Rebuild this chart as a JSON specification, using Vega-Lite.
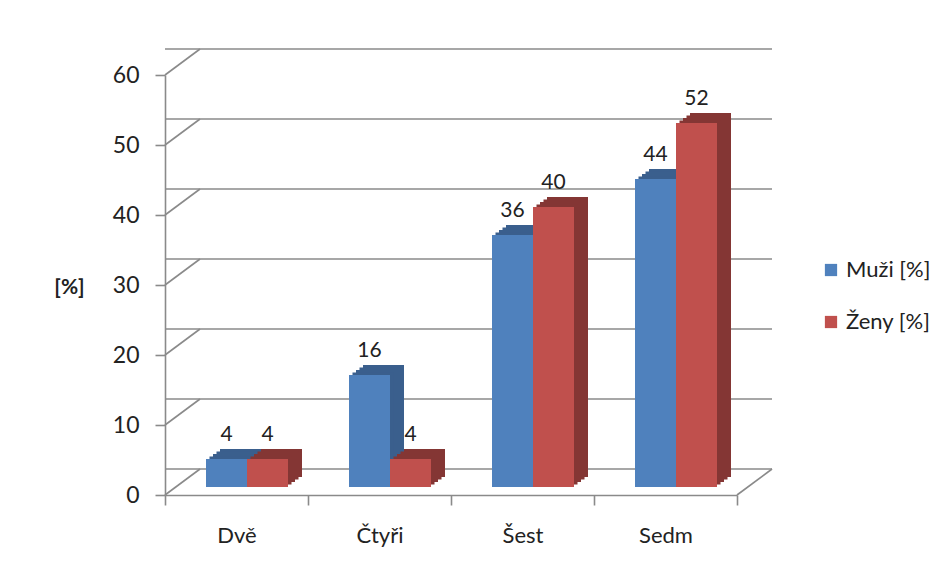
{
  "$schema": "https://vega.github.io/schema/vega-lite/v6.json",
  "width": 572,
  "height": 420,
  "autosize": {"type": "none"},
  "padding": {"left": 165, "top": 75, "right": 203, "bottom": 83},
  "background": "white",
  "config": {"view": {"stroke": null}, "font": "Lato"},
  "datasets": {
    "bars": [
      {"c": "Dvě", "s": "Muži [%]", "v": 4},
      {"c": "Čtyři", "s": "Muži [%]", "v": 16},
      {"c": "Šest", "s": "Muži [%]", "v": 36},
      {"c": "Sedm", "s": "Muži [%]", "v": 44},
      {"c": "Dvě", "s": "Ženy [%]", "v": 4},
      {"c": "Čtyři", "s": "Ženy [%]", "v": 4},
      {"c": "Šest", "s": "Ženy [%]", "v": 40},
      {"c": "Sedm", "s": "Ženy [%]", "v": 52}
    ],
    "grid": [{"v": 0}, {"v": 10}, {"v": 20}, {"v": 30}, {"v": 40}, {"v": 50}, {"v": 60}]
  },
  "layer": [
    {
      "data": {"name": "grid"},
      "mark": {"type": "rule", "color": "#8a8a8a", "strokeWidth": 1.6, "xOffset": 35, "x2Offset": 35, "yOffset": -26, "y2Offset": -26},
      "encoding": {
        "y": {
          "field": "v", "type": "quantitative",
          "scale": {"domain": [0, 60], "nice": false},
          "axis": {
            "title": "[%]", "titleAngle": 0, "titleFontWeight": "bold", "titleFontSize": 21,
            "titleX": -96, "titleY": 212, "titleAlign": "center", "titleBaseline": "middle", "titleColor": "#222",
            "values": [0, 10, 20, 30, 40, 50, 60], "grid": false,
            "domainColor": "#8a8a8a", "domainWidth": 1.6, "tickColor": "#8a8a8a", "tickWidth": 1.6, "tickSize": 10,
            "labelFontSize": 23, "labelColor": "#222", "labelPadding": 16
          }
        }
      }
    },
    {
      "data": {"name": "grid"},
      "mark": {"type": "rule", "color": "#8a8a8a", "strokeWidth": 1.6, "x2Offset": 35, "y2Offset": -26},
      "encoding": {
        "x": {"datum": "Dvě", "bandPosition": 0, "type": "nominal"},
        "x2": {"datum": "Dvě", "bandPosition": 0},
        "y": {"field": "v", "type": "quantitative"},
        "y2": {"field": "v"}
      }
    },
    {
      "data": {"values": [{"c": "Sedm", "v": 0}]},
      "mark": {"type": "rule", "color": "#8a8a8a", "strokeWidth": 1.6, "x2Offset": 35, "y2Offset": -26},
      "encoding": {
        "x": {"field": "c", "bandPosition": 1, "type": "nominal"},
        "x2": {"field": "c", "bandPosition": 1},
        "y": {"field": "v", "type": "quantitative"},
        "y2": {"field": "v"}
      }
    },
    {
      "data": {"name": "bars"},
      "transform": [{"filter": "datum.s === 'Muži [%]'"}],
      "mark": {"type": "bar", "width": 41, "color": "#3A5F8D", "xOffset": 4, "yOffset": -18, "y2Offset": -18},
      "encoding": {
        "x": {
          "field": "c", "type": "nominal",
          "scale": {"domain": ["Dvě", "Čtyři", "Šest", "Sedm"], "paddingInner": 0, "paddingOuter": 0},
          "axis": {
            "title": null, "labelAngle": 0, "labelAlign": "center", "tickBand": "extent", "tickSize": 10, "labelPadding": 30,
            "labelFontSize": 22, "labelColor": "#222", "domainColor": "#8a8a8a", "domainWidth": 1.6,
            "tickColor": "#8a8a8a", "tickWidth": 1.6
          }
        },
        "y": {"field": "v", "type": "quantitative"}
      }
    },
    {
      "data": {"name": "bars"},
      "transform": [{"filter": "datum.s === 'Muži [%]'"}],
      "mark": {"type": "bar", "width": 41, "color": "#3A5F8D", "xOffset": 0.5, "yOffset": -15.5, "y2Offset": -15.5},
      "encoding": {"x": {"field": "c", "type": "nominal"}, "y": {"field": "v", "type": "quantitative"}}
    },
    {
      "data": {"name": "bars"},
      "transform": [{"filter": "datum.s === 'Muži [%]'"}],
      "mark": {"type": "bar", "width": 41, "color": "#3A5F8D", "xOffset": -3, "yOffset": -13, "y2Offset": -13},
      "encoding": {"x": {"field": "c", "type": "nominal"}, "y": {"field": "v", "type": "quantitative"}}
    },
    {
      "data": {"name": "bars"},
      "transform": [{"filter": "datum.s === 'Muži [%]'"}],
      "mark": {"type": "bar", "width": 41, "color": "#3A5F8D", "xOffset": -6.5, "yOffset": -10.5, "y2Offset": -10.5},
      "encoding": {"x": {"field": "c", "type": "nominal"}, "y": {"field": "v", "type": "quantitative"}}
    },
    {
      "data": {"name": "bars"},
      "transform": [{"filter": "datum.s === 'Ženy [%]'"}],
      "mark": {"type": "bar", "width": 41, "color": "#843634", "xOffset": 45, "yOffset": -18, "y2Offset": -18},
      "encoding": {"x": {"field": "c", "type": "nominal"}, "y": {"field": "v", "type": "quantitative"}}
    },
    {
      "data": {"name": "bars"},
      "transform": [{"filter": "datum.s === 'Ženy [%]'"}],
      "mark": {"type": "bar", "width": 41, "color": "#843634", "xOffset": 41.5, "yOffset": -15.5, "y2Offset": -15.5},
      "encoding": {"x": {"field": "c", "type": "nominal"}, "y": {"field": "v", "type": "quantitative"}}
    },
    {
      "data": {"name": "bars"},
      "transform": [{"filter": "datum.s === 'Ženy [%]'"}],
      "mark": {"type": "bar", "width": 41, "color": "#843634", "xOffset": 38, "yOffset": -13, "y2Offset": -13},
      "encoding": {"x": {"field": "c", "type": "nominal"}, "y": {"field": "v", "type": "quantitative"}}
    },
    {
      "data": {"name": "bars"},
      "transform": [{"filter": "datum.s === 'Ženy [%]'"}],
      "mark": {"type": "bar", "width": 41, "color": "#843634", "xOffset": 34.5, "yOffset": -10.5, "y2Offset": -10.5},
      "encoding": {"x": {"field": "c", "type": "nominal"}, "y": {"field": "v", "type": "quantitative"}}
    },
    {
      "data": {"name": "bars"},
      "transform": [{"filter": "datum.s === 'Muži [%]'"}],
      "mark": {"type": "bar", "width": 41, "xOffset": -10, "yOffset": -8, "y2Offset": -8},
      "encoding": {
        "x": {"field": "c", "type": "nominal"},
        "y": {"field": "v", "type": "quantitative"},
        "color": {
          "field": "s", "type": "nominal",
          "scale": {"domain": ["Muži [%]", "Ženy [%]"], "range": ["#4F81BD", "#C0504D"]},
          "legend": {
            "title": null, "orient": "none", "legendX": 655, "legendY": 184,
            "symbolType": "square", "symbolSize": 150, "symbolStrokeWidth": 0,
            "labelFontSize": 22, "labelColor": "#222", "rowPadding": 30, "labelOffset": 4
          }
        }
      }
    },
    {
      "data": {"name": "bars"},
      "transform": [{"filter": "datum.s === 'Ženy [%]'"}],
      "mark": {"type": "bar", "width": 41, "xOffset": 31, "yOffset": -8, "y2Offset": -8},
      "encoding": {
        "x": {"field": "c", "type": "nominal"},
        "y": {"field": "v", "type": "quantitative"},
        "color": {"field": "s", "type": "nominal"}
      }
    },
    {
      "data": {"name": "bars"},
      "transform": [{"filter": "datum.s === 'Muži [%]'"}],
      "mark": {"type": "text", "fontSize": 21, "color": "#222", "baseline": "alphabetic", "xOffset": -10, "yOffset": -26},
      "encoding": {
        "x": {"field": "c", "type": "nominal"},
        "y": {"field": "v", "type": "quantitative"},
        "text": {"field": "v", "type": "quantitative"}
      }
    },
    {
      "data": {"name": "bars"},
      "transform": [{"filter": "datum.s === 'Ženy [%]'"}],
      "mark": {"type": "text", "fontSize": 21, "color": "#222", "baseline": "alphabetic", "xOffset": 31, "yOffset": -26},
      "encoding": {
        "x": {"field": "c", "type": "nominal"},
        "y": {"field": "v", "type": "quantitative"},
        "text": {"field": "v", "type": "quantitative"}
      }
    }
  ]
}
